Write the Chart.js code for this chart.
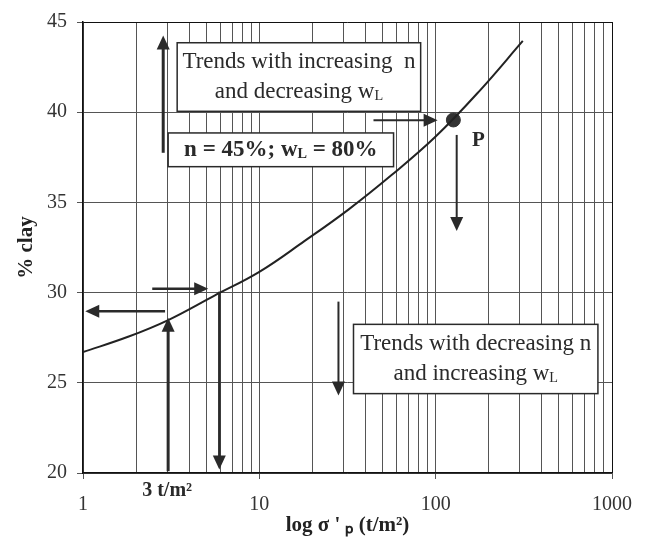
<!DOCTYPE html>
<html>
<head>
<meta charset="utf-8">
<script src="https://cdn.jsdelivr.net/npm/chart.js@4.4.1/dist/chart.umd.min.js"></script>
<style>
  html, body { margin: 0; padding: 0; background: #fff; }
</style>
</head>
<body>
<canvas id="clayChart" width="651" height="543"></canvas>
<script>
// values
var stressValues = [1, 1.8, 3, 5.6, 10, 18, 32, 56, 100, 178, 312];
var clayValues = [26.7, 27.55, 28.45, 29.85, 31.15, 32.85, 34.6, 36.5, 38.65, 41.2, 43.95];
var pointP = [126, 39.57];
var xTickLabels = [1, 10, 100, 1000];
var yTickValues = [20, 25, 30, 35, 40, 45];

var SERIF = "'Liberation Serif', 'Times New Roman', serif";
var INK = '#2a2a2a';

// annotation layout (data coordinates)
var boxes = [
  { x1: 3.42, x2: 82.2, y1: 43.85, y2: 40.05, bold: false, size: 23,
    lines: [[['Trends with increasing  n']], [['and decreasing w'], ['L', true]]] },
  { x1: 3.04, x2: 57.7, y1: 38.85, y2: 36.98, bold: true, size: 23,
    lines: [[['n = 45%; w'], ['L', true], [' = 80%']]] },
  { x1: 34.2, x2: 832, y1: 28.24, y2: 24.4, bold: false, size: 23,
    lines: [[['Trends with decreasing n']], [['and increasing w'], ['L', true]]] }
];
var arrows = [
  { from: [2.85, 37.75], to: [2.85, 44.25], w: 3 },
  { from: [44.4, 39.56], to: [102.6, 39.56], w: 2 },
  { from: [131.6, 38.74], to: [131.6, 33.41], w: 2 },
  { from: [2.92, 28.96], to: [1.03, 28.96], w: 2.5 },
  { from: [3.04, 20.1], to: [3.04, 28.6], w: 3 },
  { from: [2.47, 30.22], to: [5.13, 30.22], w: 2.5 },
  { from: [5.93, 30.05], to: [5.93, 20.2], w: 2.5 },
  { from: [28.1, 29.5], to: [28.1, 24.3], w: 2 }
];

function runsWidth(ctx, runs, size, bold) {
  var w = 0;
  runs.forEach(function (r) {
    var s = r[1] ? size * 0.62 : size;
    ctx.font = (bold ? 'bold ' : '') + s + 'px ' + SERIF;
    w += ctx.measureText(r[0]).width;
  });
  return w;
}

function drawRuns(ctx, runs, cx, cy, size, bold) {
  var x = cx - runsWidth(ctx, runs, size, bold) / 2;
  ctx.textAlign = 'left';
  ctx.textBaseline = 'middle';
  runs.forEach(function (r) {
    var s = r[1] ? size * 0.62 : size;
    ctx.font = (bold ? 'bold ' : '') + s + 'px ' + SERIF;
    ctx.fillText(r[0], x, r[1] ? cy + size * 0.18 : cy);
    x += ctx.measureText(r[0]).width;
  });
}

var annotationPlugin = {
  id: 'annotations',
  afterDatasetsDraw: function (chart) {
    var ctx = chart.ctx;
    var xs = chart.scales.x, ys = chart.scales.y;
    ctx.save();

    boxes.forEach(function (b) {
      var l = xs.getPixelForValue(b.x1), r = xs.getPixelForValue(b.x2);
      var t = ys.getPixelForValue(b.y1), btm = ys.getPixelForValue(b.y2);
      ctx.fillStyle = '#fff';
      ctx.fillRect(l, t, r - l, btm - t);
      ctx.strokeStyle = INK;
      ctx.lineWidth = 1.5;
      ctx.strokeRect(l, t, r - l, btm - t);
      ctx.fillStyle = INK;
      var cy = (t + btm) / 2;
      var n = b.lines.length;
      b.lines.forEach(function (runs, i) {
        drawRuns(ctx, runs, (l + r) / 2, cy + (i - (n - 1) / 2) * 30, b.size, b.bold);
      });
    });

    ctx.strokeStyle = INK;
    ctx.fillStyle = INK;
    arrows.forEach(function (a) {
      var x0 = xs.getPixelForValue(a.from[0]), y0 = ys.getPixelForValue(a.from[1]);
      var x1 = xs.getPixelForValue(a.to[0]), y1 = ys.getPixelForValue(a.to[1]);
      var ang = Math.atan2(y1 - y0, x1 - x0);
      var hl = 14, hw = 6.5;
      ctx.lineWidth = a.w;
      ctx.beginPath();
      ctx.moveTo(x0, y0);
      ctx.lineTo(x1 - Math.cos(ang) * hl * 0.8, y1 - Math.sin(ang) * hl * 0.8);
      ctx.stroke();
      ctx.beginPath();
      ctx.moveTo(x1, y1);
      ctx.lineTo(x1 - Math.cos(ang) * hl - Math.sin(ang) * hw, y1 - Math.sin(ang) * hl + Math.cos(ang) * hw);
      ctx.lineTo(x1 - Math.cos(ang) * hl + Math.sin(ang) * hw, y1 - Math.sin(ang) * hl - Math.cos(ang) * hw);
      ctx.closePath();
      ctx.fill();
    });

    ctx.fillStyle = INK;
    ctx.textAlign = 'center';
    ctx.textBaseline = 'middle';
    ctx.font = 'bold 21px ' + SERIF;
    ctx.fillText('P', xs.getPixelForValue(175), ys.getPixelForValue(38.4));
    ctx.font = 'bold 20px ' + SERIF;
    ctx.fillText('3 t/m²', xs.getPixelForValue(3), chart.chartArea.bottom + 18);
    ctx.restore();
  }
};

var ctx = document.getElementById('clayChart').getContext('2d');
var clayChart = new Chart(ctx, {
  type: 'line',
  data: {
    datasets: [{
      label: '% clay',
      data: stressValues.map(function (s, i) { return { x: s, y: clayValues[i] }; }),
      borderColor: '#222',
      borderWidth: 2,
      pointRadius: 0,
      tension: 0.4,
      fill: false
    }, {
      label: 'P',
      data: [{ x: pointP[0], y: pointP[1] }],
      showLine: false,
      pointRadius: 7,
      pointBackgroundColor: '#333',
      pointBorderColor: '#333'
    }]
  },
  options: {
    responsive: false,
    animation: false,
    layout: { padding: { top: 16, right: 39, left: 0, bottom: 0 } },
    plugins: {
      legend: { display: false },
      tooltip: { enabled: false }
    },
    scales: {
      x: {
        type: 'logarithmic',
        min: 1,
        max: 1000,
        afterBuildTicks: function (scale) {
          scale.ticks = scale.ticks.filter(function (t) {
            var m = t.value / Math.pow(10, Math.floor(Math.log10(t.value) + 1e-9));
            return Math.abs(m - Math.round(m)) < 1e-6;
          });
        },
        afterFit: function (scale) { scale.height = 70; },
        border: { color: '#111', width: 1.5 },
        grid: {
          color: function (c) { return c.tick && c.tick.value === 1000 ? '#111' : '#555'; },
          lineWidth: 1,
          tickLength: 6,
          tickColor: function (c) {
            return c.tick && xTickLabels.indexOf(c.tick.value) >= 0 ? '#555' : 'rgba(0,0,0,0)';
          }
        },
        ticks: {
          autoSkip: false,
          maxRotation: 0,
          padding: 14,
          color: '#333',
          font: { family: SERIF, size: 20 },
          callback: function (v) { return xTickLabels.indexOf(v) >= 0 ? String(v) : ''; }
        },
        title: {
          display: true,
          text: "log σ ' ₚ (t/m²)",
          color: '#222',
          font: { family: SERIF, size: 21, weight: 'bold' },
          padding: { top: 0, bottom: 5 }
        }
      },
      y: {
        min: 20,
        max: 45,
        afterBuildTicks: function (scale) {
          scale.ticks = yTickValues.map(function (v) { return { value: v }; });
        },
        afterFit: function (scale) { scale.width = 83; },
        border: { color: '#111', width: 1.5 },
        grid: {
          color: function (c) { return c.tick && c.tick.value === 45 ? '#111' : '#555'; },
          lineWidth: 1,
          tickLength: 6,
          tickColor: '#555'
        },
        ticks: {
          padding: 10,
          color: '#333',
          font: { family: SERIF, size: 20 }
        },
        title: {
          display: true,
          text: '% clay',
          color: '#222',
          font: { family: SERIF, size: 21, weight: 'bold' },
          padding: { top: 14, bottom: 0 }
        }
      }
    }
  },
  plugins: [annotationPlugin]
});
</script>
</body>
</html>
